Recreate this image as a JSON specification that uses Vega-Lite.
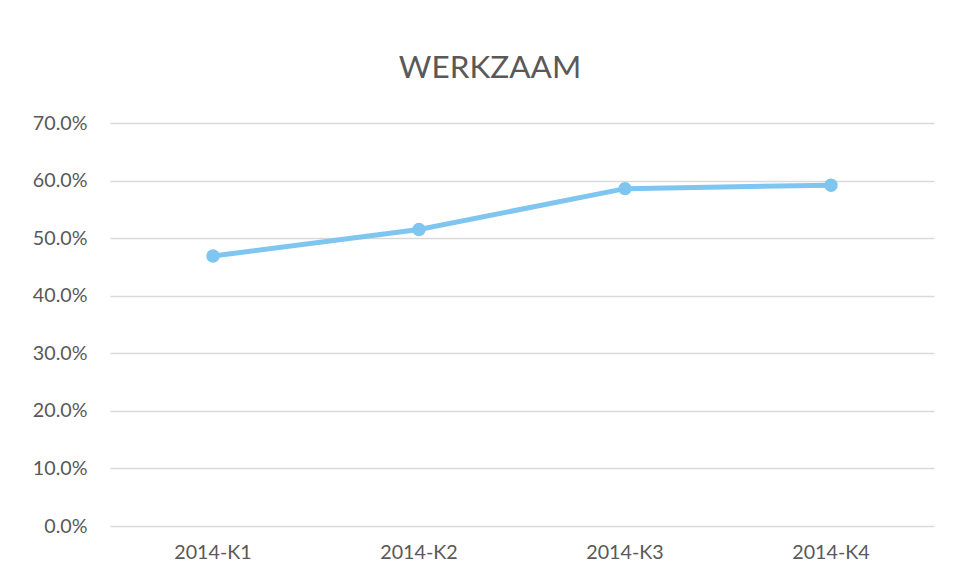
{
  "$schema": "https://vega.github.io/schema/vega-lite/v6.json",
  "autosize": {"type": "none"},
  "width": 824,
  "height": 403,
  "padding": {"left": 110, "top": 123, "right": 24, "bottom": 55},
  "background": "white",
  "title": {
    "text": "WERKZAAM",
    "anchor": "middle",
    "frame": "group",
    "dx": -32,
    "offset": 29,
    "fontSize": 31.5,
    "font": "Lato",
    "fontWeight": "normal",
    "color": "#595959"
  },
  "data": {
    "values": [
      {"kwartaal": "2014-K1", "waarde": 0.469},
      {"kwartaal": "2014-K2", "waarde": 0.515},
      {"kwartaal": "2014-K3", "waarde": 0.586},
      {"kwartaal": "2014-K4", "waarde": 0.592}
    ]
  },
  "config": {
    "view": {"stroke": null},
    "axis": {"labelFont": "Lato", "labelFontSize": 19.7, "labelColor": "#595959", "domain": false, "ticks": false}
  },
  "encoding": {
    "x": {
      "field": "kwartaal",
      "type": "nominal",
      "sort": null,
      "scale": {"type": "band", "paddingInner": 0, "paddingOuter": 0},
      "axis": {"title": null, "labelAngle": 0, "labelPadding": 16, "grid": false}
    },
    "y": {
      "field": "waarde",
      "type": "quantitative",
      "scale": {"domain": [0, 0.7], "nice": false},
      "axis": {"title": null, "format": ".1%", "values": [0, 0.1, 0.2, 0.3, 0.4, 0.5, 0.6, 0.7], "labelPadding": 23, "grid": true, "gridColor": "#d9d9d9", "gridWidth": 1.3}
    }
  },
  "layer": [
    {"mark": {"type": "line", "color": "#7EC5EF", "strokeWidth": 5}},
    {"mark": {"type": "point", "filled": true, "color": "#7EC5EF", "opacity": 1, "size": 180}}
  ]
}
